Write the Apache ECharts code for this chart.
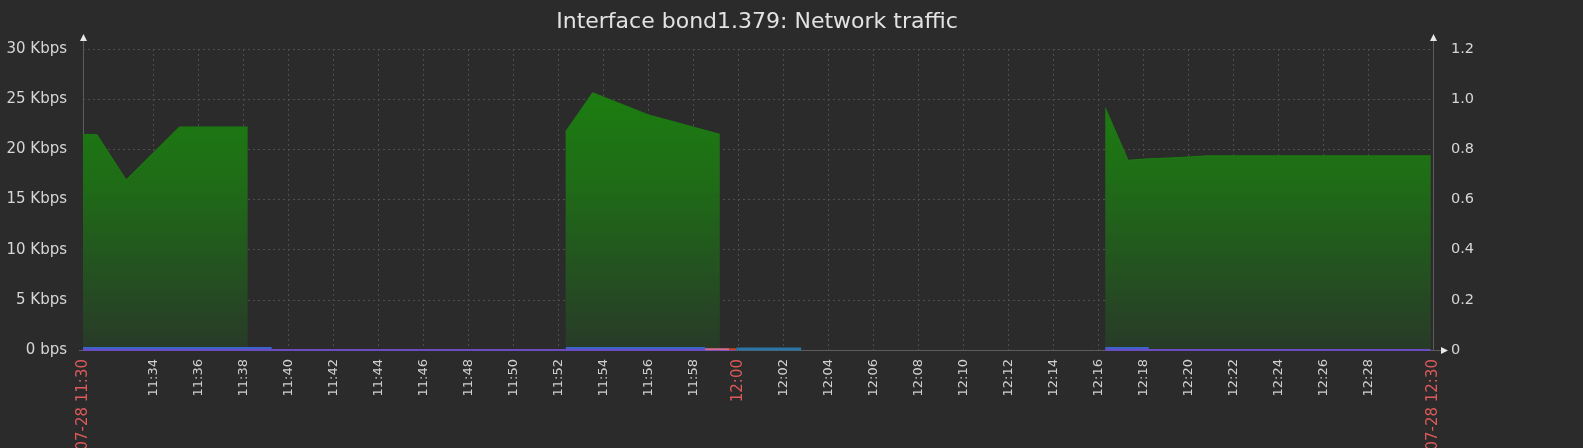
<!DOCTYPE html>
<html>
<head>
<meta charset="utf-8">
<script src="https://cdn.jsdelivr.net/npm/echarts@6/dist/echarts.min.js"></script>
<style>
html,body{margin:0;padding:0;background:#2b2b2b;}
#c{width:1583px;height:448px;}
</style>
</head>
<body>
<div id="c"></div>
<script>
// ---------------- data ----------------
const TITLE = 'Interface bond1.379: Network traffic';
const DATE_LABEL = '07-28';
const RANGE_START = '11:30:52';
const RANGE_END = '12:30:52';
const HIGHLIGHT_TICK = '12:00';

// vertical grid ticks (every 2 minutes; 11:32 is skipped in the original)
const tickTimes = ['11:34','11:36','11:38','11:40','11:42','11:44','11:46','11:48','11:50','11:52',
  '11:54','11:56','11:58','12:00','12:02','12:04','12:06','12:08','12:10','12:12','12:14',
  '12:16','12:18','12:20','12:22','12:24','12:26','12:28'];

// left axis (Kbps) and right axis ticks
const leftTicks = [0, 5, 10, 15, 20, 25, 30];
const rightTicks = [0, 0.2, 0.4, 0.6, 0.8, 1.0, 1.2];

// Incoming traffic (green area), Kbps; null = gap without data
const inTimes = ['11:30:52','11:31:29','11:32:47','11:35:09','11:38:11','11:45:00',
  '11:52:19','11:53:31','11:56:00','11:59:10','12:08:00',
  '12:16:18','12:17:19','12:18:01','12:19:27','12:20:50','12:30:46'];
const inKbps = [21.47, 21.47, 16.95, 22.23, 22.23, null,
  21.76, 25.65, 23.43, 21.5, null,
  24.15, 18.9, 19.03, 19.17, 19.35, 19.35];

// Outgoing traffic (blue line), Kbps
const outTimes = ['11:30:52','11:39:15','11:45:00','11:52:20','11:58:31','12:08:00','12:16:18','12:18:14'];
const outKbps = [0.2, 0.2, null, 0.2, 0.2, null, 0.2, 0.2];

// Zero-level series (purple line)
const zeroTimes = ['11:30:52','11:59:54','12:08:00','12:16:18','12:30:46'];
const zeroKbps = [0, 0, null, 0, 0];

// Short error / discard segments near 12:00
const errTimes = ['11:58:31','11:59:35'];
const errKbps = [0.08, 0.08];
const dropTimes = ['11:59:35','11:59:54'];
const dropKbps = [0.08, 0.08];
const tealTimes = ['11:59:54','12:02:47'];
const tealKbps = [0.1, 0.1];

// ---------------- helpers ----------------
function toSec(t){ const p=t.split(':').map(Number); return p[0]*3600+p[1]*60+(p[2]||0); }
function pairs(ts, vs){ return ts.map((t,i)=>[toSec(t), vs[i]]); }
function hhmm(sec){ const h=Math.floor(sec/3600), m=Math.floor((sec%3600)/60); return (h<10?'0':'')+h+':'+(m<10?'0':'')+m; }

const xMin = toSec(RANGE_START), xMax = toSec(RANGE_END);
const tickSec = tickTimes.map(toSec);
const labelSec = [xMin].concat(tickSec, [xMax]);
const hlSec = toSec(HIGHLIGHT_TICK);

const chart = echarts.init(document.getElementById('c'), null, {renderer:'canvas'});
const FONT = 'DejaVu Sans';
const AXIS_COLOR = '#5c5c5c';
const GRID_COLOR = '#4e4e4e';

function lineSeries(name, data, color, width){
  return {name, type:'line', data, showSymbol:false, symbol:'none', connectNulls:false,
    lineStyle:{color, width}, itemStyle:{color}, animation:false, z:3};
}

const option = {
  backgroundColor:'#2b2b2b',
  animation:false,
  title:{text:TITLE, left:757, top:11, textAlign:'center', padding:0,
    textStyle:{color:'#e2e2e2', fontFamily:FONT, fontSize:22, fontWeight:'normal'}},
  grid:{left:83, right:150, top:49, bottom:98, containLabel:false, outerBoundsMode:'none'},
  xAxis:{type:'value', min:xMin, max:xMax,
    axisLine:{show:true, lineStyle:{color:AXIS_COLOR, width:1}},
    axisTick:{show:false, customValues:tickSec},
    splitLine:{show:true, lineStyle:{color:GRID_COLOR, type:[2,3], width:1}},
    axisLabel:{show:true, customValues:labelSec, rotate:90, margin:9, hideOverlap:false,
      color:'#d0d0d0', fontFamily:FONT, fontSize:13,
      formatter:function(v){
        if (Math.abs(v-xMin)<1) return '{r|'+DATE_LABEL+' '+hhmm(v)+'}';
        if (Math.abs(v-xMax)<1) return '{r|'+DATE_LABEL+' '+hhmm(v)+'}';
        if (Math.abs(v-hlSec)<1) return '{r|'+hhmm(v)+'}';
        return hhmm(v);
      },
      rich:{r:{color:'#dc5a5a', fontFamily:FONT, fontSize:15}}
    }
  },
  yAxis:[
    {type:'value', min:0, max:30, interval:5, position:'left',
      axisLine:{show:true, lineStyle:{color:AXIS_COLOR}},
      axisTick:{show:false},
      splitLine:{show:true, lineStyle:{color:GRID_COLOR, type:[2,3], width:1}},
      axisLabel:{color:'#d6d6d6', fontFamily:FONT, fontSize:15, margin:16,
        customValues:leftTicks,
        formatter:function(v){ return v===0 ? '0 bps' : v+' Kbps'; }}
    },
    {type:'value', min:0, max:1.2, interval:0.2, position:'right',
      axisLine:{show:true, lineStyle:{color:AXIS_COLOR}},
      axisTick:{show:false},
      splitLine:{show:false},
      axisLabel:{color:'#d6d6d6', fontFamily:FONT, fontSize:14.5, margin:18,
        customValues:rightTicks,
        formatter:function(v){ return v===0 ? '0' : v.toFixed(1); }}
    }
  ],
  series:[
    {name:'Incoming', type:'line', data:pairs(inTimes, inKbps), showSymbol:false, symbol:'none',
      connectNulls:false, z:2,
      lineStyle:{color:'#1c7c10', width:1},
      areaStyle:{opacity:1, color:new echarts.graphic.LinearGradient(0,0,0,1,[
        {offset:0, color:'#1c7d10'},
        {offset:0.35, color:'#1f6c17'},
        {offset:1, color:'#283a28'}])}
    },
    lineSeries('Zero', pairs(zeroTimes, zeroKbps), '#6a4cc0', 2),
    lineSeries('Outgoing', pairs(outTimes, outKbps), '#3a64cc', 2),
    lineSeries('Errors', pairs(errTimes, errKbps), '#d46c92', 2),
    lineSeries('Discards', pairs(dropTimes, dropKbps), '#c2441c', 2),
    lineSeries('Other', pairs(tealTimes, tealKbps), '#2a74a8', 3)
  ]
};
chart.setOption(option);

// axis extensions and arrow heads (decoration), positioned from the grid rectangle
const rect = chart.getModel().getComponent('grid').coordinateSystem.getRect();
const L = rect.x, R = rect.x + rect.width, T = rect.y, B = rect.y + rect.height;
const arrowColor = '#e8e8e8';
chart.setOption({graphic:[
  {type:'line', shape:{x1:L+0.5, y1:T, x2:L+0.5, y2:T-9}, style:{stroke:AXIS_COLOR, lineWidth:1}, silent:true},
  {type:'line', shape:{x1:R+0.5, y1:T, x2:R+0.5, y2:T-9}, style:{stroke:AXIS_COLOR, lineWidth:1}, silent:true},
  {type:'line', shape:{x1:R, y1:B+0.5, x2:R+8, y2:B+0.5}, style:{stroke:AXIS_COLOR, lineWidth:1}, silent:true},
  {type:'line', shape:{x1:L-4, y1:B+0.5, x2:L, y2:B+0.5}, style:{stroke:AXIS_COLOR, lineWidth:1}, silent:true},
  {type:'polygon', shape:{points:[[L+0.5,T-15],[L-3,T-8],[L+4,T-8]]}, style:{fill:arrowColor}, silent:true},
  {type:'polygon', shape:{points:[[R+0.5,T-15],[R-3,T-8],[R+4,T-8]]}, style:{fill:arrowColor}, silent:true},
  {type:'polygon', shape:{points:[[R+15,B+0.5],[R+8,B-3],[R+8,B+4]]}, style:{fill:arrowColor}, silent:true}
]});
</script>
</body>
</html>
